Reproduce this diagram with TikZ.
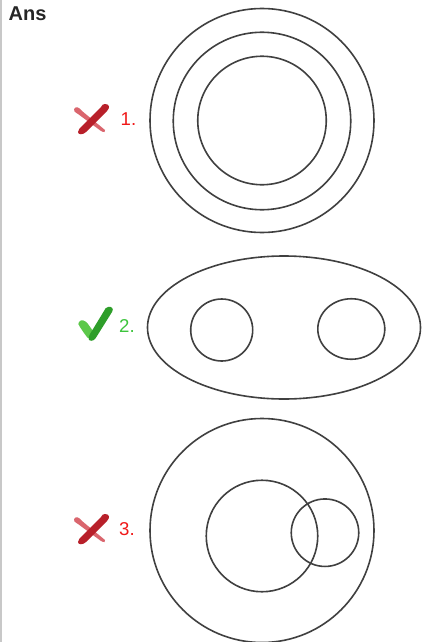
\documentclass[tikz,border=0pt]{standalone}
\usepackage{fontspec}
\setmainfont{Liberation Sans}
\usetikzlibrary{shapes.geometric}
\definecolor{ringcol}{HTML}{404040}
\definecolor{crossred}{HTML}{B8202A}
\definecolor{crossred2}{HTML}{D0404A}
\definecolor{labred}{HTML}{F01818}
\definecolor{labgreen}{HTML}{3CC43C}
\definecolor{checkgreen}{HTML}{2E9E2A}
\definecolor{checkgreen2}{HTML}{5CC84A}
\definecolor{bordergray}{HTML}{C8C8C8}
\tikzset{
  ring/.style={circle, draw=ringcol, line width=1.6pt, inner sep=0pt, fill=none},
  oval/.style={ellipse, draw=ringcol, line width=1.6pt, inner sep=0pt},
  numlab/.style={font=\fontsize{18.6}{18.6}\selectfont, inner sep=0pt, anchor=west},
}
\begin{document}
\begin{tikzpicture}[x={(1pt,0)}, y={(0,-1pt)}]
\useasboundingbox (0,0) rectangle (421,642);
\fill[white] (0,0) rectangle (421,642);
\draw[bordergray, line width=1.5pt] (0.75,0) -- (0.75,642);
\node[anchor=north west, inner sep=0pt, font=\fontsize{20}{20}\selectfont\bfseries, text=black!85] (ans) at (8.5,6.5) {Ans};

% ---- diagram 1
\node[ring, minimum size=224pt] (d1a) at (262,120.5) {};
\node[ring, minimum size=177.5pt] (d1b) at (262,121) {};
\node[ring, minimum size=128.5pt] (d1c) at (262,120.5) {};

% ---- diagram 2
\node[oval, minimum width=273pt, minimum height=143pt] (d2o) at (284,327.5) {};
\node[ring, minimum size=62pt] (d2l) at (221.7,330) {};
\node[oval, minimum width=67pt, minimum height=60.5pt] (d2r) at (351.3,329) {};

% ---- diagram 3
\node[ring, minimum size=224pt] (d3o) at (262,530.5) {};
\node[ring, minimum size=111.5pt] (d3m) at (262,536) {};
\node[ring, minimum size=67.5pt] (d3s) at (325,532.7) {};

% ---- labels
\node[numlab, text=labred] (n1) at (120.5,119.5) {1.};
\node[numlab, text=labgreen] (n2) at (119,326) {2.};
\node[numlab, text=labred] (n3) at (119,529.5) {3.};

% ---- cross marks
\foreach \dy/\nm in {0/x1, 410/x3}{
  \begin{scope}[yshift=-\dy pt]
    \coordinate (\nm) at (91,119);
    \fill[crossred2!80] (74,109) .. controls (76,106) and (79,107) .. (82,111)
      -- (105,130) .. controls (106,132) and (104,133) .. (101,131) -- (78,114)
      .. controls (75,112) and (73,111) .. (74,109) -- cycle;
    \fill[crossred] (105,104) .. controls (110,104) and (110,108) .. (107,111)
      -- (86,132) .. controls (83,135) and (78,135) .. (78,132)
      .. controls (78,130) and (80,128) .. (83,125) -- (101,107)
      .. controls (102,105) and (103,104) .. (105,104) -- cycle;
  \end{scope}
}

% ---- check mark
\coordinate (ck) at (95,325);
\fill[checkgreen2] (79,322) .. controls (81,319) and (85,320) .. (88,324)
  -- (93,331) -- (91,340) .. controls (88,339) and (86,336) .. (84,333)
  -- (80,327) .. controls (78,325) and (78,323) .. (79,322) -- cycle;
\fill[checkgreen] (108,307) .. controls (112,306) and (114,309) .. (112,312)
  -- (97,336) .. controls (95,340) and (92,342) .. (89,340)
  .. controls (88,338) and (89,336) .. (90,334)
  -- (104,311) .. controls (105,309) and (106,307) .. (108,307) -- cycle;
\end{tikzpicture}
\end{document}
